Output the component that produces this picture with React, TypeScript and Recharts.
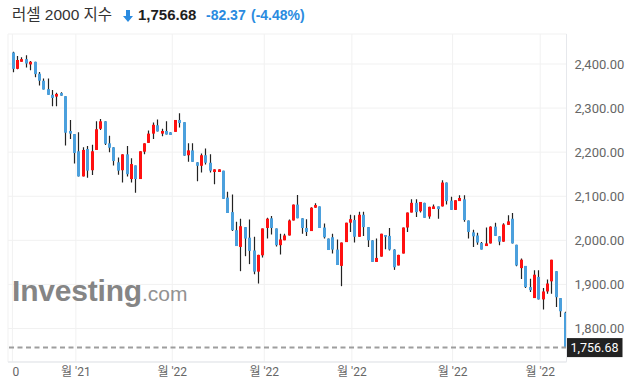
import { ComposedChart, Bar, XAxis, YAxis, CartesianGrid, ReferenceLine } from 'recharts'

// daily candles, oldest first
const opens = [
  2426, 2389, 2405, 2411, 2399, 2405, 2378, 2362, 2343, 2330, 2326, 2334, 2327, 2248, 2241, 2202,
  2145, 2207, 2159, 2205, 2253, 2270, 2220, 2211, 2177, 2159, 2195, 2139, 2170, 2139, 2201, 2221,
  2242, 2261, 2242, 2248, 2245, 2246, 2273, 2268, 2193, 2204, 2177, 2169, 2193, 2176, 2155, 2155,
  2158, 2097, 2064, 2023, 1985, 2030, 2006, 1977, 1929, 1966, 2028, 2050, 2027, 1989, 2000, 2011,
  2045, 2081, 2050, 2028, 2021, 2074, 2077, 2029, 2004, 2007, 1979, 1942, 1996, 2040, 2046, 2008,
  2058, 2030, 2000, 1951, 1963, 2012, 2010, 1979, 1943, 1970, 2029, 2063, 2085, 2066, 2085, 2054,
  2071, 2077, 2077, 2131, 2090, 2069, 2089, 2093, 2045, 2018, 2011, 1994, 1987, 1993, 2031, 2009,
  1997, 2035, 2049, 1990, 1937, 1942, 1894, 1869, 1917, 1866, 1884, 1907, 1930, 1869, 1836,
]
const highs = [
  2428, 2418, 2415, 2420, 2407, 2405, 2382, 2367, 2367, 2341, 2335, 2336, 2327, 2273, 2241, 2245,
  2211, 2214, 2217, 2270, 2275, 2270, 2237, 2211, 2188, 2195, 2214, 2186, 2170, 2202, 2220, 2249,
  2267, 2274, 2253, 2270, 2245, 2273, 2288, 2268, 2220, 2220, 2177, 2197, 2208, 2195, 2161, 2161,
  2158, 2110, 2104, 2042, 2049, 2030, 2047, 2008, 1967, 2027, 2051, 2055, 2027, 2015, 2015, 2047,
  2081, 2103, 2050, 2048, 2075, 2084, 2077, 2038, 2004, 2015, 2002, 1995, 2040, 2058, 2057, 2065,
  2065, 2030, 2000, 2004, 2015, 2012, 2028, 1980, 1967, 2029, 2063, 2093, 2093, 2087, 2085, 2076,
  2081, 2077, 2136, 2131, 2099, 2091, 2102, 2102, 2045, 2024, 2017, 1996, 2029, 2032, 2040, 2009,
  2039, 2057, 2062, 1990, 1959, 1942, 1913, 1932, 1932, 1892, 1911, 1956, 1930, 1869, 1838,
]
const lows = [
  2381, 2388, 2405, 2392, 2386, 2370, 2351, 2342, 2330, 2304, 2304, 2328, 2215, 2230, 2174, 2145,
  2145, 2142, 2148, 2205, 2250, 2216, 2200, 2170, 2149, 2131, 2145, 2131, 2108, 2139, 2195, 2221,
  2230, 2247, 2236, 2240, 2239, 2246, 2256, 2192, 2178, 2178, 2134, 2154, 2172, 2154, 2127, 2155,
  2094, 2062, 2021, 1987, 1930, 1964, 1946, 1923, 1902, 1961, 2004, 2013, 1986, 1968, 2000, 2011,
  2045, 2050, 2015, 2010, 2021, 2074, 2028, 2004, 1978, 1970, 1944, 1896, 1996, 2019, 1995, 2008,
  2010, 1985, 1951, 1951, 1963, 1980, 1977, 1933, 1943, 1970, 2019, 2063, 2053, 2063, 2051, 2049,
  2071, 2049, 2077, 2081, 2069, 2069, 2089, 2042, 2004, 1985, 1990, 1979, 1987, 1993, 2010, 1989,
  1997, 2035, 1993, 1941, 1912, 1892, 1883, 1869, 1866, 1843, 1879, 1879, 1849, 1826, 1756.68,
]
const closes = [
  2389, 2409, 2411, 2401, 2405, 2377, 2362, 2342, 2330, 2323, 2332, 2328, 2244, 2242, 2198, 2145,
  2205, 2158, 2202, 2252, 2270, 2219, 2210, 2180, 2158, 2195, 2150, 2173, 2139, 2202, 2220, 2242,
  2262, 2247, 2248, 2240, 2239, 2273, 2266, 2192, 2204, 2178, 2169, 2193, 2176, 2158, 2161, 2161,
  2094, 2062, 2023, 1987, 2032, 2004, 1976, 1929, 1967, 2027, 2049, 2028, 1989, 2002, 2011, 2045,
  2081, 2050, 2028, 2019, 2074, 2080, 2028, 2007, 1978, 1979, 1944, 1995, 2040, 2048, 2008, 2058,
  2030, 2000, 1951, 1960, 2015, 2008, 1979, 1939, 1967, 2029, 2063, 2085, 2064, 2087, 2051, 2076,
  2077, 2071, 2131, 2089, 2069, 2091, 2096, 2046, 2019, 2009, 1995, 1979, 1993, 2031, 2010, 1997,
  2036, 2043, 1993, 1943, 1956, 1894, 1887, 1922, 1866, 1884, 1902, 1956, 1871, 1839.05, 1756.68,
]

// month boundaries (in candle index units) and their labels
const monthTicks = [0, 14.5, 36.5, 57.5, 77.5, 100.5, 120.5]
const monthLabels = ['0', "월 '21", "월 '22", "월 '22", "월 '22", "월 '22", "월 '22"]
const priceTicks = [1800, 1900, 2000, 2100, 2200, 2300, 2400]

const lastClose = 1756.68
const change = -82.37
const changePct = -4.48

const UP = '#ff1010'
const DOWN = '#4ba0dd'
const WICK = '#222'
const ACCENT = '#2a8be0'

const data = opens.map((o, i) => ({ i, o, h: highs[i], l: lows[i], c: closes[i] }))

const fmt = (v: number) => v.toLocaleString('en-US', { minimumFractionDigits: 2, maximumFractionDigits: 2 })

function Candle(props: any) {
  const { x, y, width, height, payload } = props
  if (x == null || payload == null) return null
  const { o, h, l, c } = payload
  const top = Math.min(y, y + height)
  const span = Math.abs(height)
  const toY = (v: number) => top + ((h - v) / (h - l)) * span
  const cx = Math.round(x + width / 2)
  const bodyTop = toY(Math.max(o, c))
  const bodyBot = toY(Math.min(o, c))
  return (
    <g>
      <line x1={cx + 0.5} x2={cx + 0.5} y1={top} y2={top + span} stroke={WICK} strokeWidth={1.2} />
      <rect x={cx - 1} y={bodyTop} width={3} height={Math.max(bodyBot - bodyTop, 1.5)} fill={c >= o ? UP : DOWN} />
    </g>
  )
}

function MonthTick({ x, y, payload }: any) {
  const idx = monthTicks.indexOf(payload.value)
  return (
    <text x={x + (idx === 0 ? 3.5 : 0)} y={y} dy="0.71em" textAnchor="middle" fill="#666" fontSize={12}>
      {monthLabels[idx]}
    </text>
  )
}

function LastLabel({ viewBox }: any) {
  if (!viewBox) return null
  const x = viewBox.x + viewBox.width
  const y = viewBox.y
  return (
    <g>
      <rect x={x} y={y - 9.5} width={56} height={19} fill="#222" />
      <text x={x + 28} y={y} dy="0.35em" textAnchor="middle" fill="#fff" fontSize={12.5}>
        {fmt(lastClose)}
      </text>
    </g>
  )
}

export default function App() {
  return (
    <div
      style={{
        position: 'absolute',
        left: 0,
        top: 0,
        width: 635,
        height: 388,
        background: '#fff',
        overflow: 'hidden',
        fontFamily: "Roboto, 'Noto Sans CJK KR', sans-serif",
      }}
    >
      <ComposedChart
        width={635}
        height={388}
        data={data}
        margin={{ top: 34, right: 0, bottom: 0, left: 8 }}
      >
        <CartesianGrid stroke="#f1f1f1" />
        <XAxis
          dataKey="i"
          type="number"
          domain={[-1, 126.5]}
          ticks={monthTicks}
          allowDataOverflow
          height={26}
          tickSize={0}
          tickMargin={5}
          tickLine={false}
          axisLine={{ stroke: '#e2e5ea' }}
          tick={<MonthTick />}
        />
        <YAxis
          orientation="right"
          domain={[1724, 2468]}
          ticks={priceTicks}
          allowDataOverflow
          width={68.5}
          tickSize={0}
          tickMargin={8}
          tickLine={false}
          axisLine={{ stroke: '#e6e8ec' }}
          tickFormatter={fmt}
          tick={{ fill: '#666', fontSize: 13 }}
        />
        <ReferenceLine
          y={lastClose}
          stroke="#9e9e9e"
          strokeWidth={2}
          strokeDasharray="5 3.5"
          label={<LastLabel />}
        />
        <Bar dataKey={(d: any) => [d.l, d.h]} barSize={3} shape={<Candle />} isAnimationActive={false} />
      </ComposedChart>

      {/* header */}
      <div style={{ position: 'absolute', left: 12, top: 6.5, fontFamily: "'Liberation Sans', Arial, 'Noto Sans CJK KR', sans-serif", fontSize: 15.5, lineHeight: '16px', color: '#333', whiteSpace: 'nowrap' }}>
        러셀 2000 지수
      </div>
      <svg style={{ position: 'absolute', left: 123, top: 10 }} width={10} height={12} viewBox="0 0 10 12">
        <path d="M3 0 H7 V6 H10 L5 12 L0 6 H3 Z" fill={ACCENT} />
      </svg>
      <div style={{ position: 'absolute', left: 138, top: 7, fontFamily: "'Liberation Sans', Arial, sans-serif", fontSize: 15, lineHeight: '15px', fontWeight: 700, color: '#1e1e1e' }}>
        {fmt(lastClose)}
      </div>
      <div style={{ position: 'absolute', left: 206, top: 7.5, fontFamily: "'Liberation Sans', Arial, sans-serif", fontSize: 14, lineHeight: '15px', fontWeight: 700, color: ACCENT, whiteSpace: 'nowrap' }}>
        {change.toFixed(2)}
      </div>
      <div style={{ position: 'absolute', left: 251, top: 7.5, fontFamily: "'Liberation Sans', Arial, sans-serif", fontSize: 14, lineHeight: '15px', fontWeight: 700, color: ACCENT, whiteSpace: 'nowrap' }}>
        ({changePct.toFixed(2)}%)
      </div>

      {/* watermark */}
      <div style={{ position: 'absolute', left: 12, top: 276, display: 'flex', alignItems: 'baseline', fontFamily: "'Liberation Sans', Arial, sans-serif", color: '#858585', lineHeight: '30px', whiteSpace: 'nowrap' }}>
        <span style={{ fontSize: 30, fontWeight: 700, letterSpacing: -0.2 }}>Investing</span>
        <span style={{ fontSize: 21, color: '#929292' }}>.com</span>
      </div>
    </div>
  )
}
